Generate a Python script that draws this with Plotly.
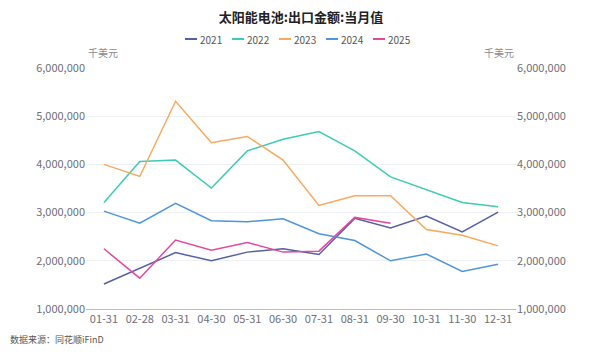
import plotly.graph_objects as go

months = ["01-31", "02-28", "03-31", "04-30", "05-31", "06-30",
          "07-31", "08-31", "09-30", "10-31", "11-30", "12-31"]

y2021 = [1520000, 1840000, 2170000, 2000000, 2180000, 2250000,
         2130000, 2880000, 2680000, 2930000, 2600000, 3010000]
y2022 = [3210000, 4060000, 4090000, 3510000, 4280000, 4520000,
         4680000, 4280000, 3740000, 3470000, 3210000, 3120000]
y2023 = [4000000, 3750000, 5310000, 4450000, 4580000, 4090000,
         3150000, 3350000, 3350000, 2650000, 2530000, 2310000]
y2024 = [3030000, 2780000, 3190000, 2830000, 2810000, 2870000,
         2560000, 2420000, 2000000, 2140000, 1780000, 1930000]
y2025 = [2250000, 1640000, 2430000, 2220000, 2380000, 2180000,
         2200000, 2900000, 2780000]

series = [
    ("2021", y2021, "#5560a4"),
    ("2022", y2022, "#3ecbb5"),
    ("2023", y2023, "#f9a85c"),
    ("2024", y2024, "#4c95e0"),
    ("2025", y2025, "#e5489a"),
]

FONT = "Noto Sans CJK SC"
fig = go.Figure()
for name, vals, col in series:
    fig.add_trace(go.Scatter(x=months[:len(vals)], y=vals, mode="lines", name=name,
                             line=dict(color=col, width=1.5), showlegend=False))
# invisible trace to render the right axis
fig.add_trace(go.Scatter(x=months, y=y2021, mode="lines", yaxis="y2",
                         line=dict(color="rgba(0,0,0,0)", width=0),
                         showlegend=False, hoverinfo="skip"))

tickcol = "#6e6e78"
fig.update_layout(
    width=602, height=357,
    margin=dict(l=86, r=86, t=68, b=48),
    paper_bgcolor="white", plot_bgcolor="white",
    font=dict(family=FONT, size=11, color=tickcol),
    title=dict(text="<b>太阳能电池:出口金额:当月值</b>", x=0.5, xanchor="center",
               y=1 - 17 / 357, yanchor="middle",
               font=dict(size=13, color="#222222", family=FONT)),
    xaxis=dict(type="category", categoryorder="array", categoryarray=months,
               range=[-0.5, 11.5], showgrid=False, showline=True,
               linecolor="#b4bccf", linewidth=1, ticks="",
               tickfont=dict(size=11, color=tickcol)),
    yaxis=dict(range=[1000000, 6000000], dtick=1000000, tickformat=",",
               showgrid=True, gridcolor="#eef0f6", gridwidth=1, zeroline=False,
               ticks="", tickfont=dict(size=11, color=tickcol)),
    yaxis2=dict(range=[1000000, 6000000], dtick=1000000, tickformat=",",
                overlaying="y", side="right", showgrid=False, zeroline=False,
                ticks="", tickfont=dict(size=11, color=tickcol)),
    showlegend=False,
)

# unit labels and source
fig.add_annotation(text="千美元", xref="paper", yref="paper", x=0, y=1,
                   xanchor="left", yanchor="middle", yshift=16, xshift=0,
                   showarrow=False, font=dict(size=10, color="#8a8a92"))
fig.add_annotation(text="千美元", xref="paper", yref="paper", x=1, y=1,
                   xanchor="right", yanchor="middle", yshift=16, xshift=0,
                   showarrow=False, font=dict(size=10, color="#8a8a92"))
fig.add_annotation(text="数据来源：同花顺iFinD", xref="paper", yref="paper",
                   x=-86 / 430, y=0, xanchor="left", yanchor="middle", yshift=-30, xshift=8,
                   showarrow=False, font=dict(size=9, color="#555555"))

# custom compact legend
pw = 430.0
ph = 357 - 68 - 48
leg_y = 1 + (68 - 39) / ph
x0 = 185
for i, (name, vals, col) in enumerate(series):
    xs = x0 + i * 47
    fig.add_shape(type="line", xref="paper", yref="paper",
                  x0=(xs - 86) / pw, x1=(xs + 12 - 86) / pw, y0=leg_y, y1=leg_y,
                  line=dict(color=col, width=2))
    fig.add_annotation(text=name, xref="paper", yref="paper",
                       x=(xs + 13 - 86) / pw, y=leg_y, xanchor="left", yanchor="middle",
                       showarrow=False, font=dict(size=10, color="#555555"))

fig.write_html("out.html", config={"displayModeBar": False},
               post_script="document.body.style.margin='0';document.body.style.padding='0';")
